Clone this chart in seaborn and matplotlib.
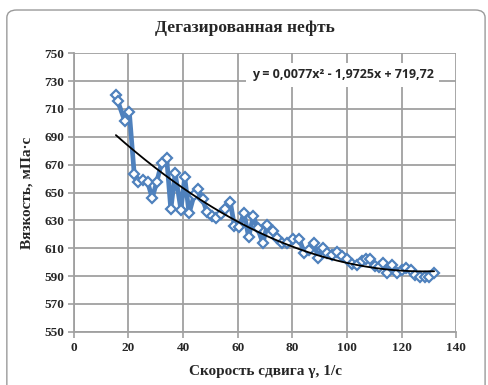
import numpy as np
import pandas as pd
import matplotlib
matplotlib.use("Agg")
import matplotlib.pyplot as plt
import seaborn as sns
from matplotlib.patches import FancyBboxPatch

# ---- data ----
shear_rate = [15.4, 16.0, 18.7, 20.3, 22.1, 23.6, 25.4, 27.0, 28.7, 30.3, 32.1, 34.0,
              35.5, 37.1, 39.2, 40.6, 42.2, 44.0, 45.6, 47.2, 48.7, 50.4, 52.2, 54.0,
              55.5, 57.3, 58.8, 60.6, 62.3, 64.0, 65.7, 67.3, 69.2, 70.8, 72.8, 74.5,
              76.3, 78.2, 80.1, 82.6, 84.4, 86.2, 88.0, 89.5, 91.1, 92.6, 94.4, 96.3,
              98.1, 100.0, 101.8, 103.6, 105.4, 107.0, 108.3, 110.3, 111.6, 113.1,
              114.8, 116.4, 118.2, 120.0, 121.7, 123.3, 124.9, 126.8, 128.4, 130.2, 131.9]
viscosity = [720, 716, 701, 708, 663.5, 657.5, 659, 657.5, 646, 657.3, 671, 674.5,
             638, 663.7, 637.8, 661, 635, 648, 652.5, 645, 636, 633.4, 632, 634.5,
             638.2, 643, 626, 625, 635.5, 618, 633, 624.4, 613.6, 626.5, 622.6, 617,
             614, 614, 616.4, 616.4, 606.4, 609, 613.6, 603, 610, 606.4, 605, 607.6,
             604.5, 602, 599, 598, 601, 602.5, 602, 597.3, 596.8, 599.7,
             592, 598, 592, 594.4, 595.6, 594.4, 590.8, 589.6, 589.6, 589.2, 592]
trend_coef = [0.0077, -1.9725, 719.72]
x_ticks = [0, 20, 40, 60, 80, 100, 120, 140]
y_ticks = [550, 570, 590, 610, 630, 650, 670, 690, 710, 730, 750]
title = "Дегазированная нефть"
x_label = "Скорость сдвига γ, 1/с"
y_label = "Вязкость, мПа·с"
equation = "y = 0,0077x² - 1,9725x + 719,72"

df = pd.DataFrame({"x": shear_rate, "y": viscosity})
xt = np.linspace(min(shear_rate), max(shear_rate), 200)
trend = pd.DataFrame({"x": xt, "y": np.polyval(trend_coef, xt)})

sns.set_style("white")
plt.rcParams["font.family"] = ["Liberation Serif", "DejaVu Serif"]

fig = plt.figure(figsize=(4.89, 3.85), dpi=100)
ax = fig.add_axes([0.151, 0.138, 0.782, 0.724])

blue = "#4F81BD"
sns.lineplot(data=df, x="x", y="y", ax=ax, sort=False, color=blue, linewidth=3.4,
             marker="D", markersize=5.5, markerfacecolor="white",
             markeredgecolor=blue, markeredgewidth=1.6, zorder=3)
sns.lineplot(data=trend, x="x", y="y", ax=ax, color="black", linewidth=1.3, zorder=4)

ax.set_xlim(0, 140)
ax.set_ylim(550, 750)
ax.set_xticks(x_ticks)
ax.set_yticks(y_ticks)
ax.grid(True, color="#A0A0A0", linewidth=1.3)
ax.set_axisbelow(True)
for s in ["top", "right"]:
    ax.spines[s].set_visible(False)
for s in ["left", "bottom"]:
    ax.spines[s].set_color("#A0A0A0")
    ax.spines[s].set_linewidth(1.3)
ax.tick_params(axis="both", which="both", direction="out", length=4, width=1.2,
               color="#A0A0A0", labelsize=9.5, pad=3, bottom=True, left=True)
for lab in ax.get_xticklabels() + ax.get_yticklabels():
    lab.set_fontweight("bold")

ax.set_xlabel(x_label, fontsize=11, fontweight="bold", labelpad=8)
ax.set_ylabel(y_label, fontsize=11, fontweight="bold", labelpad=8)
fig.text(0.5, 0.928, title, ha="center", va="center", fontsize=12.5, fontweight="bold")

ax.text(0.703, 0.922, equation, transform=ax.transAxes, ha="center", va="center",
        fontsize=9, fontweight="bold", family=["Open Sans", "DejaVu Sans"],
        bbox=dict(boxstyle="square,pad=0.45", facecolor="white", edgecolor="none"),
        zorder=6)

border = FancyBboxPatch((0.014, -0.05), 0.978, 1.024, transform=fig.transFigure,
                        boxstyle="round,pad=0,rounding_size=0.02",
                        facecolor="none", edgecolor="#9A9A9A", linewidth=1.0)
fig.patches.append(border)

fig.savefig("out.png", dpi=100)
